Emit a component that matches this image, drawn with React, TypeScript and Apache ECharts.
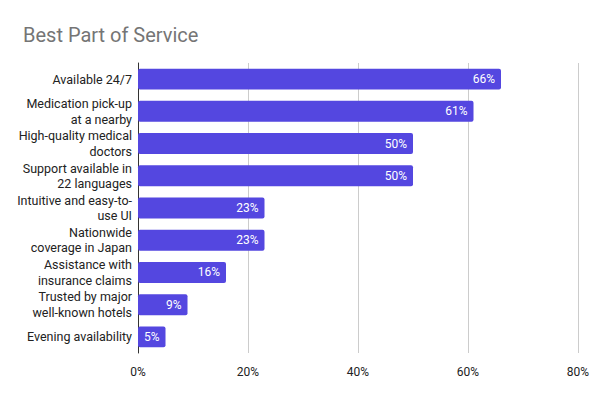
import React, { useEffect, useRef } from "react";
import * as echarts from "echarts";

const categories = [
  "Available 24/7",
  "Medication pick-up\nat a nearby",
  "High-quality medical\ndoctors",
  "Support available in\n22 languages",
  "Intuitive and easy-to-\nuse UI",
  "Nationwide\ncoverage in Japan",
  "Assistance with\ninsurance claims",
  "Trusted by major\nwell-known hotels",
  "Evening availability",
];
const values = [66, 61, 50, 50, 23, 23, 16, 9, 5];
const title = "Best Part of Service";

export default function App() {
  const ref = useRef<HTMLDivElement>(null);
  useEffect(() => {
    const chart = echarts.init(ref.current!, null, { renderer: "svg" });
    chart.setOption({
      animation: false,
      title: {
        text: title,
        left: 18,
        top: 20,
        textStyle: { fontFamily: "Roboto", fontSize: 20, fontWeight: "normal", color: "#757575" },
      },
      grid: { left: 138, right: 22, top: 63, bottom: 47, containLabel: false },
      xAxis: {
        type: "value",
        min: 0,
        max: 80,
        interval: 20,
        axisLine: { show: false },
        axisTick: { show: false },
        splitLine: { lineStyle: { color: "#cccccc" } },
        axisLabel: {
          formatter: "{value}%",
          fontFamily: "Roboto",
          fontSize: 12,
          color: "#222222",
          margin: 13,
        },
      },
      yAxis: {
        type: "category",
        data: categories,
        inverse: true,
        axisLine: { show: true, lineStyle: { color: "#333333" } },
        axisTick: { show: false },
        axisLabel: {
          fontFamily: "Roboto",
          fontSize: 12.5,
          color: "#222222",
          margin: 6,
          lineHeight: 15.5,
          align: "right",
        },
      },
      series: [
        {
          type: "bar",
          data: values,
          barCategoryGap: "35%",
          itemStyle: { color: "#5447e0", borderRadius: 2 },
          label: {
            show: true,
            position: "insideRight",
            distance: 6,
            formatter: "{c}%",
            color: "#ffffff",
            fontFamily: "Roboto",
            fontSize: 12,
          },
        },
      ],
    });
    return () => chart.dispose();
  }, []);
  return (
    <div
      ref={ref}
      style={{ position: "absolute", left: 0, top: 0, width: 600, height: 400 }}
    />
  );
}
